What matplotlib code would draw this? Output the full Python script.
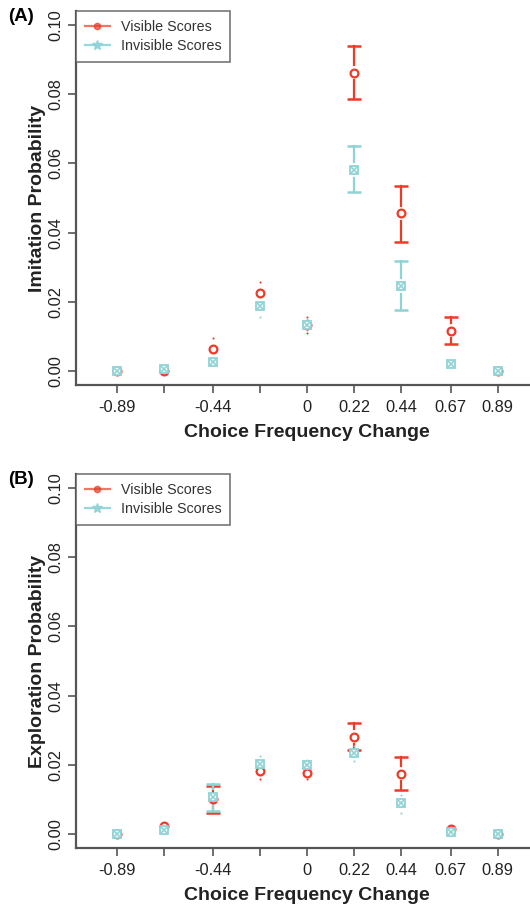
import matplotlib
matplotlib.use("Agg")
import matplotlib.pyplot as plt
from matplotlib.lines import Line2D
import numpy as np

plt.rcParams['font.family'] = ['Liberation Sans', 'DejaVu Sans']

# choice frequency change (x positions) and the labels that R kept
x_vals = [-0.89, -0.67, -0.44, -0.22, 0.0, 0.22, 0.44, 0.67, 0.89]
x_labels = ['-0.89', '', '-0.44', '', '0', '0.22', '0.44', '0.67', '0.89']

# panel A: imitation probability
imit_vis = [0.0, 0.0, 0.0063, 0.0225, 0.0133, 0.0862, 0.0456, 0.0117, 0.0]
imit_vis_hi = [0.0002, 0.0002, 0.0095, 0.0258, 0.0157, 0.0939, 0.0536, 0.0157, 0.0002]
imit_vis_lo = [0.0, 0.0, 0.0035, 0.0192, 0.0110, 0.0785, 0.0374, 0.0077, 0.0]
imit_inv = [0.0001, 0.0005, 0.0027, 0.0188, 0.0133, 0.0581, 0.0246, 0.0022, 0.0001]
imit_inv_hi = [0.0003, 0.0008, 0.0040, 0.0215, 0.0150, 0.0651, 0.0318, 0.0035, 0.0003]
imit_inv_lo = [0.0, 0.0002, 0.0015, 0.0157, 0.0118, 0.0518, 0.0176, 0.0010, 0.0]

# panel B: exploration probability
expl_vis = [0.0, 0.0023, 0.0100, 0.0183, 0.0177, 0.0281, 0.0175, 0.0014, 0.0]
expl_vis_hi = [0.0002, 0.0032, 0.0140, 0.0205, 0.0195, 0.0320, 0.0223, 0.0022, 0.0002]
expl_vis_lo = [0.0, 0.0014, 0.0062, 0.0158, 0.0160, 0.0243, 0.0127, 0.0006, 0.0]
expl_inv = [0.0, 0.0013, 0.0108, 0.0202, 0.0199, 0.0233, 0.0089, 0.0005, 0.0]
expl_inv_hi = [0.0002, 0.0020, 0.0144, 0.0225, 0.0215, 0.0255, 0.0112, 0.0010, 0.0002]
expl_inv_lo = [0.0, 0.0006, 0.0068, 0.0180, 0.0183, 0.0211, 0.0060, 0.0, 0.0]

RED = '#EB3C28'
CYAN = '#8FD3D7'
AXIS = '#555555'
GAP = 0.0022  # room left around the marker, like plotCI


def draw_ci(ax, y, lo, hi, color):
    # segments with caps; tiny intervals only leave a dot, as in the original
    for xi, yi, l, h in zip(x_vals, y, lo, hi):
        for end in (h, l):
            d = abs(end - yi)
            if d > 0.0035:
                s = yi + GAP * np.sign(end - yi)
                ax.plot([xi, xi], [s, end], color=color, lw=1.6, zorder=2)
                ax.plot(xi, end, marker='_', ms=9.5, mew=1.8, color=color, zorder=2)
            elif d > GAP * 0.6:
                ax.plot(xi, end, marker='o', ms=1.5, color=color, mew=0, zorder=2)


def panel(ax, vis, vis_lo, vis_hi, inv, inv_lo, inv_hi, ylabel, tag):
    draw_ci(ax, vis, vis_lo, vis_hi, RED)
    ax.plot(x_vals, vis, ls='none', marker='o', ms=5.6, mfc='white', mec=RED, mew=1.6, zorder=3)
    draw_ci(ax, inv, inv_lo, inv_hi, CYAN)
    ax.plot(x_vals, inv, ls='none', marker='s', ms=5.4, mfc='white', mec=CYAN, mew=1.3, zorder=4)
    ax.plot(x_vals, inv, ls='none', marker='x', ms=4.8, mec=CYAN, mew=1.2, zorder=4)

    ax.set_xlim(-1.08, 1.08)
    ax.set_ylim(-0.004, 0.104)
    ax.set_xticks(x_vals)
    ax.set_xticklabels(x_labels)
    ax.set_yticks([0.0, 0.02, 0.04, 0.06, 0.08, 0.10])
    ax.set_yticklabels(['0.00', '0.02', '0.04', '0.06', '0.08', '0.10'],
                       rotation=90, va='center')
    for side in ('top', 'right'):
        ax.spines[side].set_visible(False)
    for side in ('left', 'bottom'):
        ax.spines[side].set_color(AXIS)
        ax.spines[side].set_linewidth(1.6)
    ax.tick_params(axis='both', direction='out', length=6, width=1.2,
                   color=AXIS, labelsize=11.8, labelcolor='#222222')
    ax.tick_params(axis='x', pad=5)
    ax.tick_params(axis='y', pad=3)
    ax.set_xlabel('Choice Frequency Change', fontsize=14, fontweight='bold',
                  color='#222222', labelpad=6)
    ax.set_ylabel(ylabel, fontsize=14, fontweight='bold', color='#222222', labelpad=2)

    handles = [
        Line2D([], [], color=RED, alpha=0.7, lw=1.6, marker='o', ms=4.5),
        Line2D([], [], color=CYAN, alpha=0.9, lw=1.6, marker='*', ms=7),
    ]
    leg = ax.legend(handles, ['Visible Scores', 'Invisible Scores'], loc='upper left',
                    bbox_to_anchor=(0.0, 1.0), borderaxespad=0, fancybox=False,
                    fontsize=10.3, handlelength=1.8, handletextpad=0.75,
                    borderpad=0.6, labelspacing=0.4)
    leg.get_frame().set_edgecolor(AXIS)
    leg.get_frame().set_linewidth(1.2)
    for t in leg.get_texts():
        t.set_color('#333333')

    ax.figure.text(0.015, ax.get_position().y1 - 0.006, tag, fontsize=13.5,
                   fontweight='bold', va='center', ha='left')


fig = plt.figure(figsize=(5.3, 9.05), dpi=100)
ax_a = fig.add_axes([0.1434, 0.5746, 0.8723, 0.4133])
ax_b = fig.add_axes([0.1434, 0.0630, 0.8723, 0.4133])

panel(ax_a, imit_vis, imit_vis_lo, imit_vis_hi, imit_inv, imit_inv_lo, imit_inv_hi,
      'Imitation Probability', '(A)')
panel(ax_b, expl_vis, expl_vis_lo, expl_vis_hi, expl_inv, expl_inv_lo, expl_inv_hi,
      'Exploration Probability', '(B)')

fig.savefig('out.png', dpi=100)
